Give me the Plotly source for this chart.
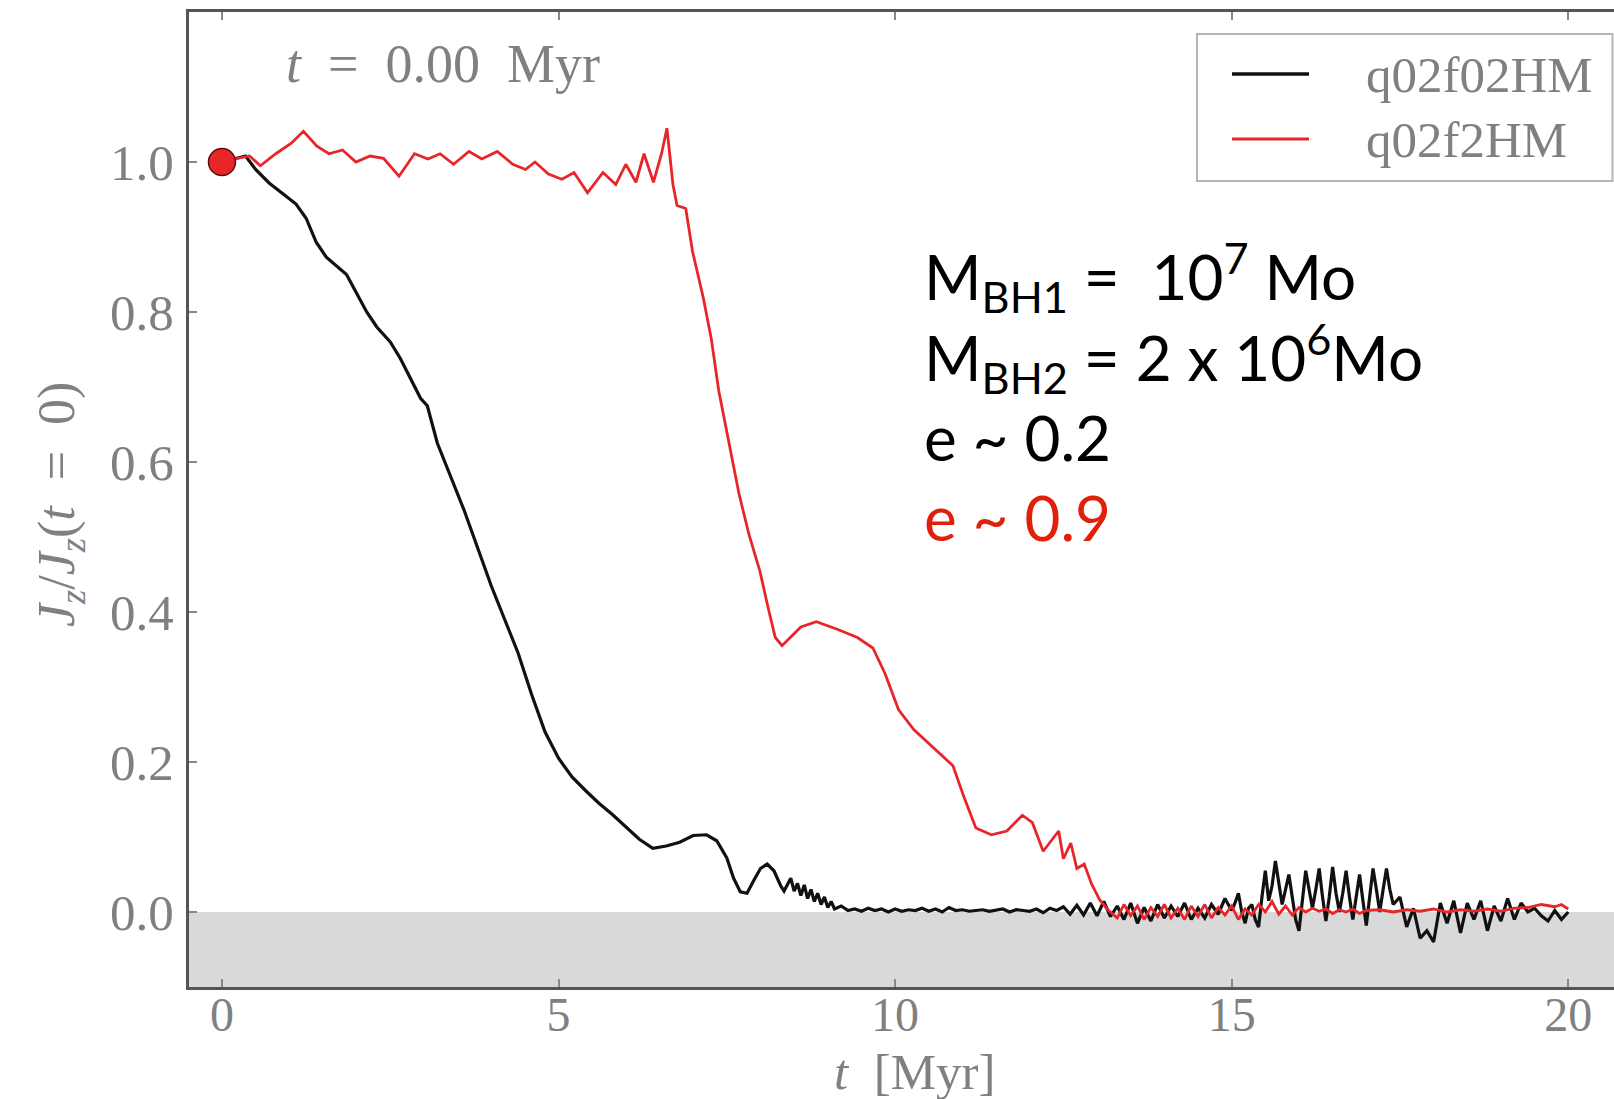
import plotly.graph_objects as go

# ---------------- data (t [Myr], Jz/Jz(t=0)) ----------------
black_pts = [
    (0.0, 1.000), (0.2, 1.005), (0.35, 1.008), (0.5, 0.990), (0.7, 0.972), (0.9, 0.958), (1.1, 0.944),
    (1.25, 0.925), (1.4, 0.893), (1.55, 0.873), (1.7, 0.862), (1.85, 0.850), (2.0, 0.825), (2.15, 0.800),
    (2.3, 0.780), (2.5, 0.760), (2.65, 0.738), (2.8, 0.712), (2.95, 0.685), (3.05, 0.675), (3.2, 0.625),
    (3.4, 0.580), (3.6, 0.535), (3.8, 0.485), (4.0, 0.435), (4.2, 0.390), (4.4, 0.345), (4.6, 0.290),
    (4.8, 0.240), (5.0, 0.205), (5.2, 0.180), (5.4, 0.162), (5.6, 0.145), (5.8, 0.130), (6.0, 0.113),
    (6.2, 0.097), (6.4, 0.085), (6.6, 0.088), (6.8, 0.093), (7.0, 0.102), (7.2, 0.103), (7.35, 0.095),
    (7.5, 0.072), (7.6, 0.045), (7.7, 0.027), (7.8, 0.025), (7.9, 0.042), (8.0, 0.058), (8.1, 0.064),
    (8.2, 0.055), (8.3, 0.035), (8.35, 0.028), (8.45, 0.045), (8.5, 0.028), (8.55, 0.038), (8.6, 0.022),
    (8.65, 0.036), (8.7, 0.018), (8.75, 0.030), (8.8, 0.014), (8.85, 0.025), (8.9, 0.010), (8.95, 0.020),
    (9.0, 0.006), (9.05, 0.014), (9.1, 0.004), (9.2, 0.008), (9.3, 0.002),
    (9.4, 0.004), (9.5, 0.001), (9.6, 0.005), (9.7, 0.002), (9.8, 0.004), (9.9, 0.000), (10.0, 0.004),
    (10.1, 0.001), (10.2, 0.003), (10.3, 0.002), (10.4, 0.005), (10.5, 0.001), (10.6, 0.004),
    (10.7, 0.000), (10.8, 0.006), (10.9, 0.002), (11.0, 0.003), (11.1, 0.001), (11.2, 0.002),
    (11.3, 0.003), (11.4, 0.001), (11.5, 0.002), (11.6, 0.004), (11.7, 0.000), (11.8, 0.003),
    (11.9, 0.002), (12.0, 0.001), (12.1, 0.004), (12.2, -0.001), (12.3, 0.005), (12.4, 0.002),
    (12.5, 0.007), (12.6, -0.003), (12.7, 0.009), (12.8, -0.004), (12.9, 0.012), (13.0, -0.005),
    (13.1, 0.014), (13.2, -0.006), (13.3, 0.008), (13.4, -0.010), (13.5, 0.012), (13.6, -0.015),
    (13.7, 0.006), (13.8, -0.012), (13.9, 0.010), (14.0, -0.008), (14.1, 0.008), (14.2, -0.006),
    (14.3, 0.012), (14.4, -0.010), (14.5, 0.005), (14.6, -0.008), (14.7, 0.010), (14.8, -0.003),
    (14.9, 0.018),
    (15.0, 0.002), (15.05, 0.012), (15.1, 0.025), (15.15, 0.000), (15.2, -0.015), (15.25, 0.005),
    (15.3, 0.010), (15.35, -0.010), (15.4, -0.020), (15.45, 0.020), (15.5, 0.055), (15.55, 0.015),
    (15.6, 0.035), (15.65, 0.068), (15.7, 0.040), (15.75, 0.010), (15.8, 0.030), (15.85, 0.050),
    (15.9, 0.020), (15.95, -0.010), (16.0, -0.025), (16.05, 0.020), (16.1, 0.055), (16.15, 0.030),
    (16.2, 0.005), (16.25, 0.030), (16.3, 0.058), (16.35, 0.020), (16.4, -0.012), (16.45, 0.020),
    (16.5, 0.060), (16.55, 0.025), (16.6, 0.000), (16.65, 0.025), (16.7, 0.055), (16.75, 0.020),
    (16.8, -0.010), (16.85, 0.020), (16.9, 0.050), (16.95, 0.015), (17.0, -0.018), (17.05, 0.020),
    (17.1, 0.058), (17.15, 0.030), (17.2, 0.000), (17.25, 0.030), (17.3, 0.058), (17.35, 0.030),
    (17.4, 0.010), (17.45, 0.015), (17.5, 0.020), (17.55, 0.000), (17.6, -0.020),
    (17.7, 0.005), (17.8, -0.035), (17.9, -0.025), (18.0, -0.040), (18.1, 0.012), (18.2, -0.015),
    (18.3, 0.015), (18.4, -0.028), (18.5, 0.012), (18.6, -0.010), (18.7, 0.015), (18.8, -0.025),
    (18.9, 0.008), (19.0, -0.012), (19.1, 0.018), (19.2, -0.010), (19.3, 0.012), (19.4, 0.000),
    (19.5, 0.005), (19.6, -0.005), (19.7, -0.012), (19.8, 0.002), (19.9, -0.010), (20.0, 0.000),
]

red_pts = [
    (0.0, 1.000), (0.18, 1.004), (0.41, 1.008), (0.57, 0.995), (0.8, 1.011), (1.03, 1.025), (1.21, 1.041),
    (1.41, 1.021), (1.59, 1.011), (1.79, 1.016), (1.99, 1.000), (2.2, 1.008), (2.4, 1.005), (2.63, 0.981),
    (2.86, 1.011), (3.06, 1.004), (3.24, 1.011), (3.44, 0.997), (3.67, 1.014), (3.86, 1.004), (4.09, 1.014),
    (4.32, 0.997), (4.51, 0.990), (4.65, 1.000), (4.85, 0.984), (5.05, 0.977), (5.23, 0.986), (5.43, 0.959),
    (5.66, 0.986), (5.85, 0.970), (6.0, 0.997), (6.15, 0.973), (6.27, 1.011), (6.41, 0.973), (6.53, 1.011),
    (6.61, 1.045), (6.7, 0.970), (6.76, 0.942), (6.89, 0.938), (6.99, 0.881), (7.15, 0.819), (7.27, 0.764),
    (7.38, 0.695), (7.53, 0.627), (7.68, 0.558), (7.83, 0.503), (7.99, 0.455), (8.11, 0.407), (8.22, 0.366),
    (8.32, 0.355), (8.45, 0.366), (8.6, 0.380), (8.83, 0.387), (9.14, 0.377), (9.44, 0.366), (9.67, 0.352),
    (9.85, 0.318), (10.05, 0.270), (10.28, 0.243), (10.59, 0.218), (10.86, 0.195), (11.02, 0.154),
    (11.2, 0.112), (11.43, 0.103), (11.66, 0.108), (11.89, 0.129), (12.04, 0.119), (12.2, 0.081),
    (12.35, 0.099), (12.43, 0.108), (12.5, 0.071), (12.61, 0.092), (12.7, 0.058), (12.81, 0.064),
    (12.92, 0.037), (13.04, 0.016), (13.16, 0.003),
    (13.3, -0.008), (13.4, 0.010), (13.5, -0.005), (13.6, 0.008), (13.7, -0.010), (13.8, 0.006),
    (13.9, -0.006), (14.0, 0.010), (14.1, -0.008), (14.2, 0.005), (14.3, -0.010), (14.4, 0.008),
    (14.5, -0.006), (14.6, 0.010), (14.7, -0.008), (14.8, 0.006), (14.9, -0.004), (15.0, 0.008),
    (15.1, -0.010), (15.2, 0.004), (15.3, -0.004), (15.4, 0.010), (15.5, 0.000), (15.6, 0.014),
    (15.7, -0.003), (15.8, 0.008), (15.9, -0.004), (16.0, 0.006), (16.1, 0.000), (16.2, 0.005),
    (16.3, 0.001), (16.4, 0.004), (16.5, -0.002), (16.6, 0.003), (16.7, 0.000), (16.8, 0.004),
    (16.9, -0.002), (17.0, 0.002), (17.2, 0.003), (17.4, 0.000), (17.6, 0.003), (17.8, 0.001),
    (18.0, 0.004), (18.2, 0.000), (18.4, 0.003), (18.6, 0.001), (18.8, 0.004), (19.0, 0.001),
    (19.2, 0.005), (19.4, 0.006), (19.6, 0.010), (19.8, 0.007), (19.9, 0.010), (20.0, 0.004),
]

black_t = [p[0] for p in black_pts]
black_y = [p[1] for p in black_pts]
red_t = [p[0] for p in red_pts]
red_y = [p[1] for p in red_pts]

start_t = [0.0]
start_y = [1.0]

x_ticks = [0, 5, 10, 15, 20]
y_ticks = [0.0, 0.2, 0.4, 0.6, 0.8, 1.0]
series_names = ["q02f02HM", "q02f2HM"]
info_lines = ["M<sub>BH1</sub> =&nbsp; 10<sup>7</sup> Mo",
              "M<sub>BH2</sub> = 2 x 10<sup>6</sup>Mo",
              "e ~ 0.2",
              "e ~ 0.9"]

# ---------------- layout helpers ----------------
W, H = 1614, 1099
L, T, B, R = 189, 12, 112, 0
PW, PH = W - L - R, H - T - B


def pxx(xpix):
    return (xpix - L) / PW


def pyy(ypix):
    return 1 - (ypix - T) / PH


BLACK = "#111111"
RED = "#e8262a"
GREY_TXT = "#808080"
SPINE = "#555555"
SERIF = "Liberation Serif, Times New Roman, serif"
SANS = "Lato, Open Sans, sans-serif"

fig = go.Figure()
fig.add_trace(go.Scatter(x=black_t, y=black_y, mode="lines", name=series_names[0],
                         line=dict(color=BLACK, width=3.2), showlegend=False))
fig.add_trace(go.Scatter(x=red_t, y=red_y, mode="lines", name=series_names[1],
                         line=dict(color=RED, width=2.8), showlegend=False))
fig.add_trace(go.Scatter(x=start_t, y=start_y, mode="markers", showlegend=False,
                         marker=dict(color=RED, size=27, line=dict(color="#5a1010", width=1.5))))

shapes = [
    dict(type="rect", xref="paper", yref="y", x0=0, x1=1, y0=-0.2, y1=0.0,
         fillcolor="#d9d9d9", line=dict(width=0), layer="below"),
    # legend box
    dict(type="rect", xref="paper", yref="paper", x0=pxx(1197), x1=pxx(1612.5),
         y0=pyy(181), y1=pyy(34), fillcolor="white", line=dict(color="#b5b5b5", width=2)),
    dict(type="line", xref="paper", yref="paper", x0=pxx(1232), x1=pxx(1309),
         y0=pyy(74), y1=pyy(74), line=dict(color=BLACK, width=3.5)),
    dict(type="line", xref="paper", yref="paper", x0=pxx(1232), x1=pxx(1309),
         y0=pyy(139), y1=pyy(139), line=dict(color=RED, width=3)),
]

annotations = [
    dict(text="<i>t</i>&nbsp; = &nbsp;0.00&nbsp; Myr", xref="paper", yref="paper", x=pxx(443), y=pyy(64),
         xanchor="center", yanchor="middle",
         showarrow=False, font=dict(family=SERIF, size=54, color=GREY_TXT)),
    dict(text=series_names[0], xref="paper", yref="paper", x=pxx(1364), y=pyy(75),
         xanchor="left", yanchor="middle",
         showarrow=False, font=dict(family=SERIF, size=51, color=GREY_TXT)),
    dict(text=series_names[1], xref="paper", yref="paper", x=pxx(1364), y=pyy(140),
         xanchor="left", yanchor="middle",
         showarrow=False, font=dict(family=SERIF, size=51, color=GREY_TXT)),
    dict(text="<i>J</i><sub><i>z</i></sub>/<i>J</i><sub><i>z</i></sub>(<i>t</i>&nbsp; = &nbsp;0)",
         xref="paper", yref="paper", x=pxx(60), y=pyy(505), textangle=-90,
         xanchor="center", yanchor="middle", showarrow=False,
         font=dict(family=SERIF, size=52, color=GREY_TXT)),
    dict(text="<i>t</i>&nbsp; [Myr]", xref="paper", yref="paper", x=pxx(914), y=pyy(1072),
         xanchor="center", yanchor="middle", showarrow=False,
         font=dict(family=SERIF, size=51, color=GREY_TXT)),
]
line_y = [276, 357, 437, 517]
line_col = ["#000000", "#000000", "#000000", "#e0200a"]
for txt, yy, cc in zip(info_lines, line_y, line_col):
    annotations.append(dict(text=txt, xref="paper", yref="paper", x=pxx(922), y=pyy(yy),
                            xanchor="left", yanchor="middle", showarrow=False,
                            font=dict(family=SANS, size=62, color=cc)))

fig.update_layout(
    width=W, height=H,
    margin=dict(l=L, r=R, t=T, b=B, pad=0),
    paper_bgcolor="white", plot_bgcolor="white",
    shapes=shapes, annotations=annotations,
    showlegend=False,
    xaxis=dict(range=[-0.49, 20.68], tickvals=x_ticks, ticktext=[str(v) for v in x_ticks],
               showgrid=False, zeroline=False, showline=True, linecolor=SPINE, linewidth=3,
               mirror="ticks", ticks="inside", ticklen=8, tickwidth=1.5, tickcolor="#888888",
               ticklabelstandoff=-17,
               tickfont=dict(family=SERIF, size=48, color=GREY_TXT)),
    yaxis=dict(range=[-0.1, 1.2], tickvals=y_ticks, ticktext=["%.1f" % v for v in y_ticks],
               showgrid=False, zeroline=False, showline=True, linecolor=SPINE, linewidth=3,
               ticks="inside", ticklen=8, tickwidth=1.5, tickcolor="#888888",
               ticklabelstandoff=2,
               tickfont=dict(family=SERIF, size=51, color=GREY_TXT)),
)

fig.write_html("out.html")
